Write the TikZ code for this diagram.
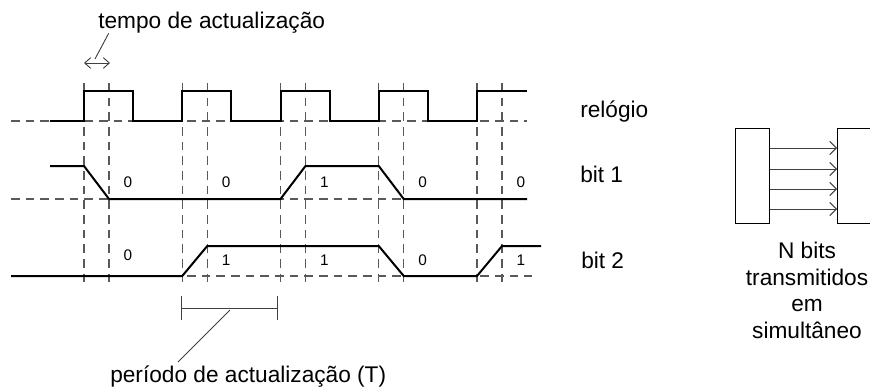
\documentclass[tikz,border=0pt]{standalone}
\usepackage{fontspec}
\setmainfont{Liberation Sans}
\usetikzlibrary{arrows.meta}

\begin{document}
\begin{tikzpicture}[x=0.75pt,y=-0.75pt,
  sinal/.style={line width=1.5pt,line join=miter},
  guia/.style={draw=black!65,line width=0.8pt,dash pattern=on 6.5pt off 4.5pt},
  valor/.style={inner sep=0pt,font=\fontsize{11.5}{13}\selectfont},
  rotulo/.style={inner sep=0pt,anchor=base west,font=\fontsize{17}{20}\selectfont},
  caixa/.style={draw,line width=0.8pt,inner sep=0pt,minimum height=71.25pt},
  seta/.style={draw=black!75,line width=0.7pt,-{Straight Barb[length=5pt,width=10pt]}},
  cota/.style={draw=black!75,line width=0.7pt}]
\useasboundingbox (0,0) rectangle (870,389);
% linhas de referencia
\foreach \y/\f in {121/527,199/527,276/532} \draw[guia] (11,\y) -- (\f,\y);
\foreach \x in {84,182.25,280.5,378.75,477} \draw[guia] (\x,83) -- (\x,283) (\x+25,83) -- (\x+25,283);
% sinais
\draw[sinal] (50,121) foreach \x in {84,182.25,280.5,378.75} {-- (\x,121) -- (\x,91) -- (\x+49,91) -- (\x+49,121)} -- (477,121) -- (477,91) -- (527,91);
\draw[sinal] (50,166) -- (84,166) -- (109,199) -- (280.5,199) -- (305.5,166) -- (378.75,166) -- (403.75,199) -- (527,199);
\draw[sinal] (11,276) -- (182.25,276) -- (207.25,246) -- (378.75,246) -- (403.75,276) -- (477,276) -- (502,246) -- (541,246);
\foreach \v [count=\i from 0] in {0,0,1,0,0} \node[valor] (b1v\i) at (128+98.25*\i,182) {\v};
\foreach \v/\y [count=\i from 0] in {0/255,1/260,1/260,0/260,1/260} \node[valor] (b2v\i) at (128+98.25*\i,\y) {\v};
\node[rotulo] (rel) at (580,117) {relógio};
\node[rotulo] (bit1) at (580,182) {bit 1};
\node[rotulo] (bit2) at (581,268) {bit 2};
% tempo de actualizacao
\node[rotulo] (tempo) at (98,28) {tempo de actualização};
\coordinate (ta) at (84,63);
\coordinate (tb) at (110,63);
\coordinate (tm) at (95,59);
\draw[cota,{Straight Barb[length=4.5pt,width=8pt]}-{Straight Barb[length=4.5pt,width=8pt]}] (ta) -- (tb);
\draw[cota] ([xshift=8pt,yshift=-4pt]tempo.base west) -- (tm);
% periodo
\coordinate (pa) at (181,308);
\coordinate (pb) at (278,308);
\coordinate (pm) at (230,310);
\draw[cota,{Bar[width=18.5pt]}-{Bar[width=18.5pt]}] (pa) -- (pb);
\node[rotulo] (periodo) at (110,382) {período de actualização (T)};
\draw[cota] (178,362) -- (pm);
% transmissao paralela
\node[caixa,minimum width=25.5pt,anchor=north west] (esq) at (735,128) {};
\node[caixa,minimum width=40pt,anchor=north west] (dir) at (837,128) {};
\foreach \d in {20,41,61,81} \draw[seta] ([yshift=-\d*0.75pt]esq.north east) -- ([yshift=-\d*0.75pt]dir.north west);
\node[inner sep=0pt,anchor=base,align=center,font=\fontsize{17}{19.8}\selectfont] (nbits) at (807,338) {N bits\\transmitidos\\em\\simultâneo};
\end{tikzpicture}
\end{document}
